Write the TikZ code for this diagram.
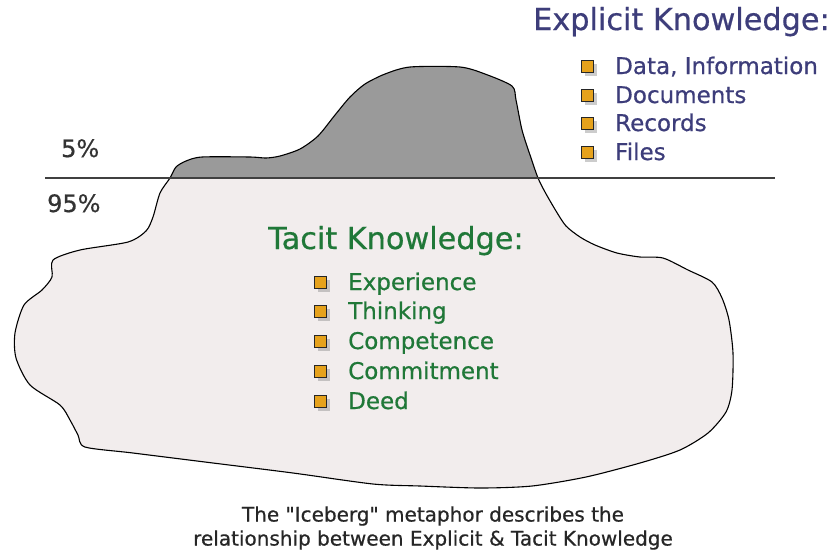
\documentclass[tikz,border=0pt]{standalone}
\usepackage{fontspec}
\setmainfont{DejaVu Sans}[FakeBold=0.6]
\usepackage{tikz}
\usetikzlibrary{shadows}

\definecolor{explicitblue}{HTML}{3D3D7A}
\definecolor{tacitgreen}{HTML}{207838}
\definecolor{tipgray}{HTML}{9A9A9A}
\definecolor{icepink}{HTML}{F2EDED}
\definecolor{bulletgold}{HTML}{E6A21C}

\begin{document}
\begin{tikzpicture}[x=1pt,y=-1pt,
  heading/.style={anchor=base west,inner sep=0pt,font=\fontsize{30.3}{32}\selectfont},
  item/.style={anchor=base west,inner sep=0pt,font=\fontsize{23}{26}\selectfont},
  pct/.style={anchor=base west,inner sep=0pt,text=black!80,font=\fontsize{24}{28}\selectfont},
  bullet/.style={draw=black!85,line width=1.8pt,fill=bulletgold,minimum size=12pt,
    inner sep=0pt,drop shadow={shadow xshift=3pt,shadow yshift=-3pt,opacity=0.4}},
  caption/.style={align=center,text=black!85,font=\fontsize{20}{24}\selectfont},
  outline/.style={draw=black,line width=1.1pt}
]
\useasboundingbox (0,0) rectangle (835,550);

% ---- iceberg: whole body, then the part above the water ----
\def\iceberg{plot[smooth cycle,tension=0.45] coordinates {
  (170,178) (176,167) (186,161) (202,157) (250,157) (266,158) (280,156)
  (300,149) (318,136) (335,115) (350,97) (365,84) (385,74) (410,67)
  (460,67) (485,74) (512,86) (516,100) (522,130) (530,155) (538,178)
  (545,192) (556,211) (566,226) (580,237) (595,245) (617,253) (640,257)
  (663,258) (688,270) (712,282) (722,298) (729,320) (733,353) (732,390)
  (726,412) (708,433) (680,450) (640,463) (586,477) (532,486) (480,488)
  (420,486) (373,484) (293,473) (213,463) (133,453) (85,447) (78,435)
  (70,420) (60,405) (30,385) (16,358) (15,333) (24,305) (42,290) (52,277)
  (53,260) (80,250) (128,242) (146,231) (153,217) (160,193)}}
\fill[icepink] \iceberg;
\begin{scope}
  \clip (0,0) rectangle (835,178);
  \fill[tipgray] \iceberg;
\end{scope}
\draw[outline] \iceberg;

% ---- water line ----
\draw[black!75,line width=1.4pt] (45,178) -- (775,178);
\node[pct] (above) at (61,157) {5\%};
\node[pct] (below) at (47,212) {95\%};

% ---- explicit knowledge ----
\node[heading,text=explicitblue] (explicit) at (533,30) {Explicit Knowledge:};
\foreach \y/\t [count=\i] in {74/{Data, Information},103/Documents,131/Records,160/Files}{
  \node[bullet] (eb\i) at (587.5,\y-7.5) {};
  \node[item,text=explicitblue] (ei\i) at (615,\y) {\t};
}

% ---- tacit knowledge ----
\node[heading,text=tacitgreen] (tacit) at (268,249) {Tacit Knowledge:};
\foreach \y/\t [count=\i] in {290/Experience,319/Thinking,349/Competence,379/Commitment,409/Deed}{
  \node[bullet] (tb\i) at (320.5,\y-7.5) {};
  \node[item,text=tacitgreen] (ti\i) at (348,\y) {\t};
}

% ---- caption ----
\node[caption] (note) at (433,528)
  {The \textquotedbl Iceberg\textquotedbl{} metaphor describes the\\relationship between Explicit \& Tacit Knowledge};
\end{tikzpicture}
\end{document}
